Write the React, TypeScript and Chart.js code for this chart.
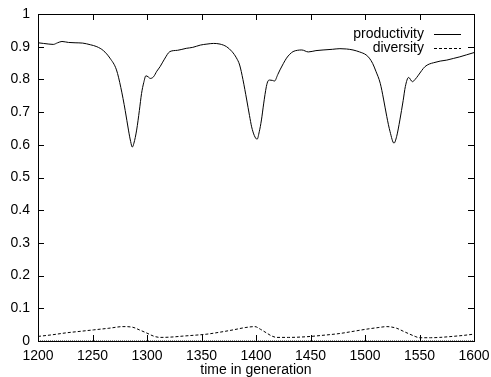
import React, { useEffect, useRef } from "react";
import { Chart, registerables } from "chart.js";

Chart.register(...registerables);

const prodGen = [1200,1205,1210,1214,1218,1222,1228,1234,1241,1248,1254,1260,1266,1272,1276,1280,1283,1285,1286.5,1288,1290.5,1293,1295,1297,1299,1301,1303,1306,1309,1312,1316,1321,1328,1336,1342,1349,1355,1361,1367,1373,1378,1382,1385,1388,1391.5,1394,1396,1398.5,1401,1403,1405,1407,1409.5,1411,1412.5,1415,1417,1420,1422,1425,1428,1431,1434,1438,1442,1448,1455,1461.5,1470,1477,1483,1489,1495,1501,1504,1507,1510,1514,1517,1520,1523,1526.6,1529,1532,1535,1537,1540,1543.5,1546,1549,1552,1555,1559,1563,1569,1575,1581,1587,1593,1600];
const productivity = [0.912,0.910,0.908,0.907,0.912,0.916,0.913,0.912,0.911,0.906,0.900,0.888,0.865,0.829,0.775,0.705,0.645,0.610,0.593,0.605,0.645,0.705,0.757,0.790,0.811,0.808,0.803,0.808,0.825,0.839,0.862,0.885,0.889,0.895,0.898,0.905,0.908,0.910,0.908,0.900,0.885,0.866,0.844,0.800,0.737,0.690,0.655,0.628,0.617,0.640,0.676,0.725,0.778,0.795,0.798,0.797,0.795,0.815,0.829,0.848,0.865,0.877,0.885,0.889,0.890,0.884,0.888,0.890,0.892,0.894,0.893,0.890,0.884,0.875,0.865,0.849,0.825,0.788,0.740,0.686,0.640,0.605,0.625,0.676,0.735,0.778,0.806,0.793,0.800,0.813,0.827,0.839,0.847,0.851,0.856,0.859,0.864,0.869,0.875,0.882];

const divGen = [1200,1213,1226,1240,1251,1265,1278,1287,1293,1300,1306,1312,1322,1333,1345,1355,1367,1379,1390,1399,1404,1409.5,1414,1419,1430,1446,1460,1477,1490,1501,1512,1520,1529,1535,1541,1546,1550,1560,1568.5,1580,1590,1600];
const diversity = [0.014,0.019,0.025,0.030,0.034,0.039,0.044,0.042,0.034,0.024,0.015,0.011,0.012,0.015,0.018,0.021,0.027,0.034,0.041,0.044,0.036,0.025,0.016,0.011,0.011,0.013,0.017,0.023,0.030,0.036,0.041,0.044,0.039,0.030,0.021,0.014,0.010,0.010,0.011,0.014,0.017,0.021];

const seriesLabels = ["productivity", "diversity"];
const xTitle = "time in generation";

const FONT = "'Liberation Sans', Arial, Helvetica, sans-serif";

const framePlugin = {
  id: "frame",
  afterDatasetsDraw(chart: any) {
    const { ctx, chartArea } = chart;
    const { left, right, top, bottom } = chartArea;
    const xs = chart.scales.x;
    const ys = chart.scales.y;
    const tl = 6;
    ctx.save();
    // dotted zero axis
    ctx.strokeStyle = "#888";
    ctx.lineWidth = 1;
    ctx.setLineDash([1, 1]);
    const y0 = Math.round(ys.getPixelForValue(0)) - 0.5;
    ctx.beginPath();
    ctx.moveTo(left, y0);
    ctx.lineTo(right, y0);
    ctx.stroke();
    ctx.setLineDash([]);
    ctx.strokeStyle = "#000";
    // border
    ctx.strokeRect(Math.round(left) + 0.5, Math.round(top) + 0.5, Math.round(right - left), Math.round(bottom - top));
    ctx.beginPath();
    xs.ticks.forEach((t: any) => {
      const px = Math.round(xs.getPixelForValue(t.value)) + 0.5;
      ctx.moveTo(px, bottom);
      ctx.lineTo(px, bottom - tl);
      ctx.moveTo(px, top);
      ctx.lineTo(px, top + tl);
    });
    ys.ticks.forEach((t: any) => {
      const py = Math.round(ys.getPixelForValue(t.value)) + 0.5;
      ctx.moveTo(left, py);
      ctx.lineTo(left + tl, py);
      ctx.moveTo(right, py);
      ctx.lineTo(right - tl, py);
    });
    ctx.stroke();
    // legend
    ctx.font = "14px " + FONT;
    ctx.fillStyle = "#000";
    ctx.textAlign = "right";
    ctx.textBaseline = "middle";
    const textRight = right - 50;
    const rows = [34, 48];
    chart.data.datasets.forEach((ds: any, i: number) => {
      ctx.fillText(ds.label, textRight, rows[i]);
      ctx.setLineDash(ds.borderDash || []);
      ctx.beginPath();
      ctx.moveTo(textRight + 10, rows[i] + 0.5);
      ctx.lineTo(right - 13, rows[i] + 0.5);
      ctx.stroke();
    });
    ctx.restore();
  },
};

export default function App() {
  const ref = useRef<HTMLCanvasElement>(null);
  useEffect(() => {
    if (!ref.current) return;
    const chart = new Chart(ref.current, {
      type: "line",
      data: {
        datasets: [
          {
            label: seriesLabels[0],
            data: prodGen.map((g, i) => ({ x: g, y: productivity[i] })),
            borderColor: "#000",
            borderWidth: 1,
            pointRadius: 0,
            cubicInterpolationMode: "monotone",
          },
          {
            label: seriesLabels[1],
            data: divGen.map((g, i) => ({ x: g, y: diversity[i] })),
            borderColor: "#000",
            borderWidth: 1,
            borderDash: [3, 2],
            pointRadius: 0,
            cubicInterpolationMode: "monotone",
          },
        ],
      },
      options: {
        animation: false,
        responsive: false,
        events: [],
        layout: { padding: { left: 0, right: 17, top: 14, bottom: 0 } },
        plugins: { legend: { display: false }, tooltip: { enabled: false } },
        scales: {
          x: {
            type: "linear",
            min: 1200,
            max: 1600,
            grid: { display: false, drawTicks: false },
            border: { display: false },
            ticks: {
              stepSize: 50,
              padding: 7,
              color: "#000",
              font: { family: FONT, size: 14 },
              maxRotation: 0,
              callback: (v: any) => String(v),
            },
            title: {
              display: true,
              text: xTitle,
              color: "#000",
              font: { family: FONT, size: 14, lineHeight: 1 },
              padding: 0,
            },
            afterFit: (s: any) => {
              s.height = 36;
              s.paddingLeft = 0;
              s.paddingRight = 0;
            },
          },
          y: {
            min: 0,
            max: 1,
            grid: { display: false, drawTicks: false },
            border: { display: false },
            ticks: {
              stepSize: 0.1,
              padding: 8,
              color: "#000",
              font: { family: FONT, size: 14 },
              callback: (v: any) => String(Math.round(v * 10) / 10),
            },
            afterFit: (s: any) => {
              s.width = 38;
              s.paddingTop = 0;
              s.paddingBottom = 0;
            },
          },
        },
      },
      plugins: [framePlugin],
    } as any);
    return () => chart.destroy();
  }, []);
  return (
    <div style={{ position: "absolute", left: 0, top: 0, width: 491, height: 377, background: "#fff" }}>
      <canvas ref={ref} width={491} height={377} />
    </div>
  );
}
